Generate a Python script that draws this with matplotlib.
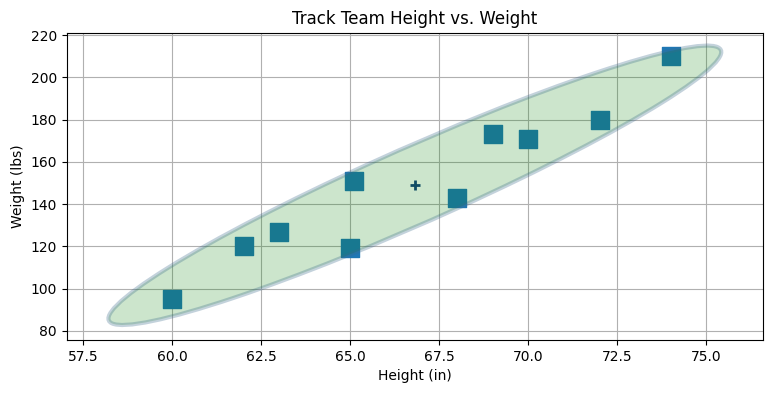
import numpy as np
import matplotlib
matplotlib.use("Agg")
import matplotlib.pyplot as plt
import matplotlib.transforms as transforms
from matplotlib.patches import Ellipse
from matplotlib.colors import to_rgba

# track team data
heights = [60, 62, 63, 65, 65.1, 68, 69, 70, 72, 74]
weights = [95, 120, 127, 119, 151, 143, 173, 171, 180, 210]


def confidence_ellipse(x, y, ax, n_std=2.0, **kwargs):
    """Covariance ellipse around the mean of x and y."""
    x = np.asarray(x, dtype=float)
    y = np.asarray(y, dtype=float)
    cov = np.cov(x, y, bias=True)
    pearson = cov[0, 1] / np.sqrt(cov[0, 0] * cov[1, 1])
    rx = np.sqrt(1 + pearson)
    ry = np.sqrt(1 - pearson)
    ell = Ellipse((0, 0), width=rx * 2, height=ry * 2, **kwargs)
    sx = np.sqrt(cov[0, 0]) * n_std
    sy = np.sqrt(cov[1, 1]) * n_std
    tr = (transforms.Affine2D().rotate_deg(45).scale(sx, sy)
          .translate(x.mean(), y.mean()))
    ell.set_transform(tr + ax.transData)
    return ax.add_patch(ell)


fig, ax = plt.subplots(figsize=(7.73, 3.93), dpi=100)
fig.subplots_adjust(left=0.0863, right=0.9875, bottom=0.1349, top=0.9168)

ax.scatter(heights, weights, marker='s', s=150, color='C0', zorder=2)
ax.plot(np.mean(heights), np.mean(weights), marker='+', color='#133e7d',
        markersize=7, mew=2, zorder=2)

confidence_ellipse(heights, weights, ax, n_std=2.0,
                   facecolor=to_rgba('green', 0.2),
                   edgecolor=to_rgba('#3a6a8a', 0.3), linewidth=3, zorder=3)

ax.set_xlim(57.03, 76.6)
ax.set_ylim(75.7, 221.1)
ax.grid(True)
ax.set_title('Track Team Height vs. Weight')
ax.set_xlabel('Height (in)')
ax.set_ylabel('Weight (lbs)')

fig.savefig('out.png', dpi=100)
